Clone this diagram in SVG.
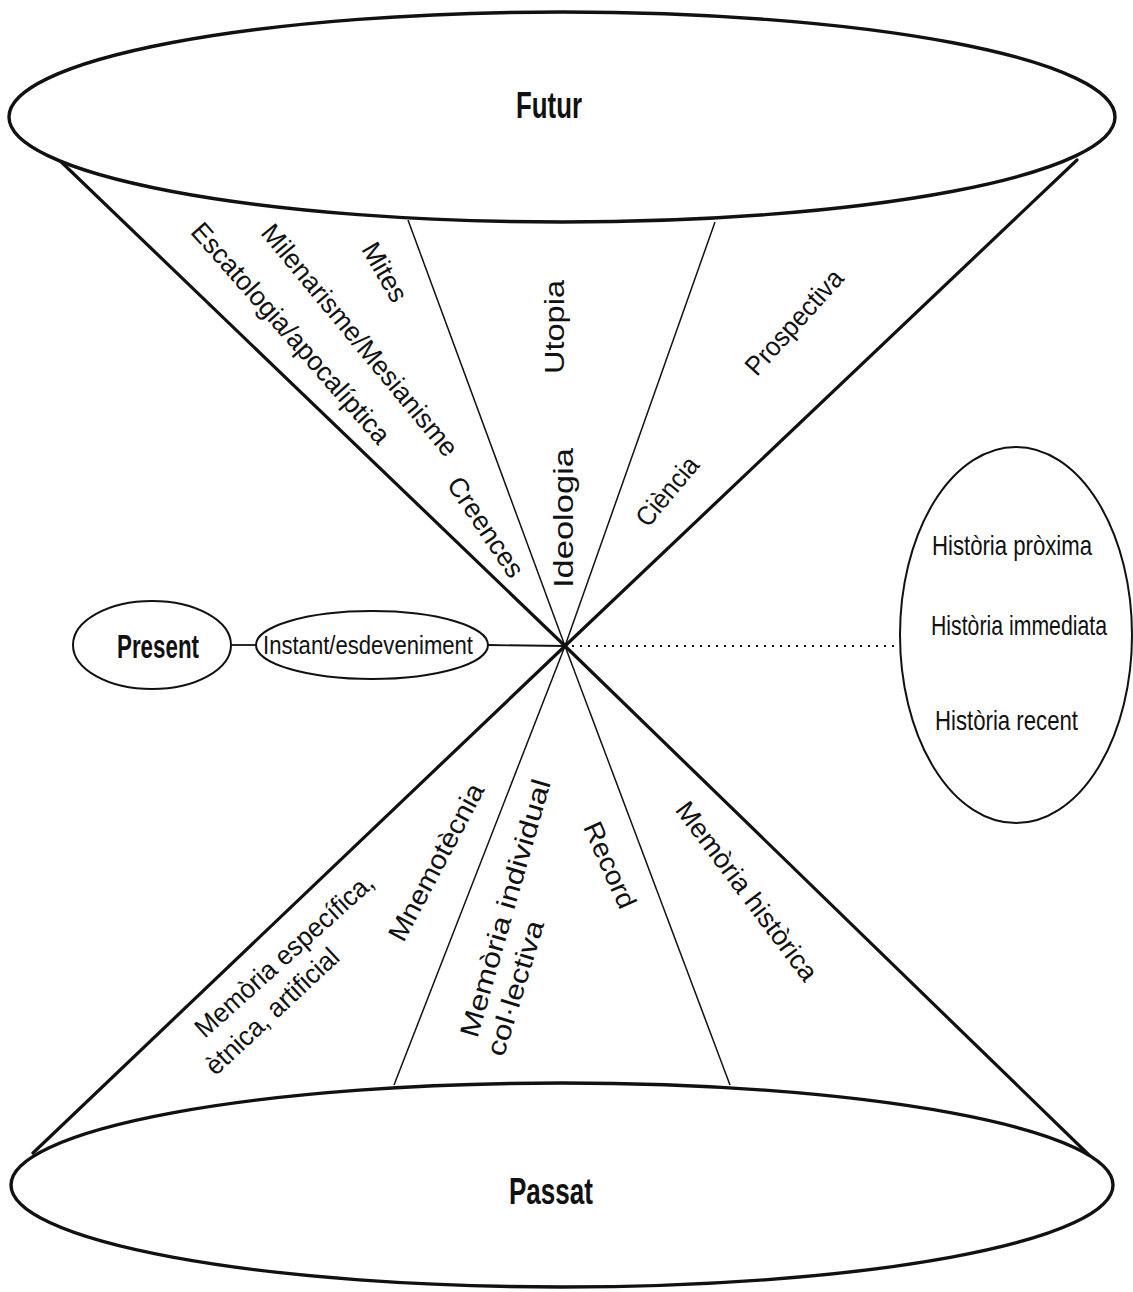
<svg xmlns="http://www.w3.org/2000/svg" width="1133" height="1292" viewBox="0 0 1133 1292">
<style>
.bg{fill:#ffffff}
.big{fill:#ffffff;stroke:#111;stroke-width:3.4}
.small{fill:#ffffff;stroke:#111;stroke-width:2}
.thick{stroke:#111;stroke-width:3.2;fill:none;stroke-linecap:round}
.thin{stroke:#111;stroke-width:1.5;fill:none}
.link{stroke:#111;stroke-width:1.8;fill:none}
.dot{stroke:#111;stroke-width:2;fill:none;stroke-dasharray:2 6}
text{font-family:"Liberation Sans Narrow","Liberation Sans",Arial,sans-serif;fill:#111}
.t{font-size:27px}
.h{font-size:28px}
.m{font-size:26px}
.b{font-size:37px;font-weight:bold}
.p{font-size:34px;font-weight:bold}
</style>
<rect class="bg" x="0" y="0" width="1133" height="1292"/>
<g id="connectors">
  <line class="thick" x1="54" y1="155" x2="565" y2="646"/>
  <line class="thick" x1="1077" y1="160" x2="565" y2="646"/>
  <line class="thin" x1="408" y1="220" x2="565" y2="646"/>
  <line class="thin" x1="715" y1="222" x2="565" y2="646"/>
  <line class="thick" x1="565" y1="646" x2="33" y2="1153"/>
  <line class="thick" x1="565" y1="646" x2="1091" y2="1157"/>
  <line class="thin" x1="565" y1="646" x2="394" y2="1085"/>
  <line class="thin" x1="565" y1="646" x2="730" y2="1085"/>
  <line class="link" x1="231" y1="645" x2="257" y2="645"/>
  <line class="link" x1="488" y1="645" x2="565" y2="646"/>
  <line class="dot" x1="572" y1="646" x2="899" y2="646"/>
</g>
<g id="node-futur">
  <ellipse class="big" cx="562" cy="117" rx="553" ry="105"/>
  <text class="b" x="549" y="118" text-anchor="middle" textLength="66" lengthAdjust="spacingAndGlyphs">Futur</text>
</g>
<g id="node-passat">
  <ellipse class="big" cx="562" cy="1185" rx="551" ry="102"/>
  <text class="b" x="551" y="1204" text-anchor="middle" textLength="84" lengthAdjust="spacingAndGlyphs">Passat</text>
</g>
<g id="node-present">
  <ellipse class="small" cx="152" cy="645" rx="79" ry="44"/>
  <text class="p" x="158" y="658" text-anchor="middle" textLength="82" lengthAdjust="spacingAndGlyphs">Present</text>
</g>
<g id="node-instant">
  <ellipse class="small" cx="372" cy="645" rx="116" ry="34"/>
  <text class="m" x="368" y="654" text-anchor="middle" textLength="210" lengthAdjust="spacingAndGlyphs">Instant/esdeveniment</text>
</g>
<g id="node-historia">
  <ellipse class="small" cx="1016" cy="635" rx="116" ry="188"/>
  <text class="h" x="932" y="555" textLength="160" lengthAdjust="spacingAndGlyphs">Història pròxima</text>
  <text class="h" x="931" y="635" textLength="176" lengthAdjust="spacingAndGlyphs">Història immediata</text>
  <text class="h" x="935" y="730" textLength="143" lengthAdjust="spacingAndGlyphs">Història recent</text>
</g>
<g id="labels-futur">
  <text class="t" x="291" y="333" dy="0.35em" text-anchor="middle" textLength="285" lengthAdjust="spacingAndGlyphs" transform="rotate(48.5 291 333)">Escatologia/apocalíptica</text>
  <text class="t" x="360" y="340" dy="0.35em" text-anchor="middle" textLength="292" lengthAdjust="spacingAndGlyphs" transform="rotate(50.5 360 340)">Milenarisme/Mesianisme</text>
  <text class="t" x="385" y="272" dy="0.35em" text-anchor="middle" textLength="64" lengthAdjust="spacingAndGlyphs" transform="rotate(60 385 272)">Mites</text>
  <text class="t" x="486" y="527" dy="0.35em" text-anchor="middle" textLength="115" lengthAdjust="spacingAndGlyphs" transform="rotate(56 486 527)">Creences</text>
  <text class="t" x="555" y="327" dy="0.35em" text-anchor="middle" textLength="94" lengthAdjust="spacingAndGlyphs" transform="rotate(-90 555 327)">Utopia</text>
  <text class="t" x="564" y="518" dy="0.35em" text-anchor="middle" textLength="140" lengthAdjust="spacingAndGlyphs" transform="rotate(-90 564 518)">Ideologia</text>
  <text class="t" x="667" y="491" dy="0.35em" text-anchor="middle" textLength="82" lengthAdjust="spacingAndGlyphs" transform="rotate(-50 667 491)">Ciència</text>
  <text class="t" x="794" y="322" dy="0.35em" text-anchor="middle" textLength="132" lengthAdjust="spacingAndGlyphs" transform="rotate(-48 794 322)">Prospectiva</text>
</g>
<g id="labels-passat">
  <text class="t" x="284" y="955" dy="0.35em" text-anchor="middle" textLength="230" lengthAdjust="spacingAndGlyphs" transform="rotate(-42 284 955)">Memòria específica,</text>
  <text class="t" x="272" y="1011" dy="0.35em" text-anchor="middle" textLength="172" lengthAdjust="spacingAndGlyphs" transform="rotate(-43 272 1011)">ètnica, artificial</text>
  <text class="t" x="436" y="862" dy="0.35em" text-anchor="middle" textLength="174" lengthAdjust="spacingAndGlyphs" transform="rotate(-62 436 862)">Mnemotècnia</text>
  <text class="t" x="505" y="908" dy="0.35em" text-anchor="middle" textLength="267" lengthAdjust="spacingAndGlyphs" transform="rotate(-74 505 908)">Memòria individual</text>
  <text class="t" x="515" y="988" dy="0.35em" text-anchor="middle" textLength="140" lengthAdjust="spacingAndGlyphs" transform="rotate(-73 515 988)">col·lectiva</text>
  <text class="t" x="610" y="865" dy="0.35em" text-anchor="middle" textLength="92" lengthAdjust="spacingAndGlyphs" transform="rotate(66 610 865)">Record</text>
  <text class="t" x="747" y="891" dy="0.35em" text-anchor="middle" textLength="217" lengthAdjust="spacingAndGlyphs" transform="rotate(53 747 891)">Memòria històrica</text>
</g>
</svg>
